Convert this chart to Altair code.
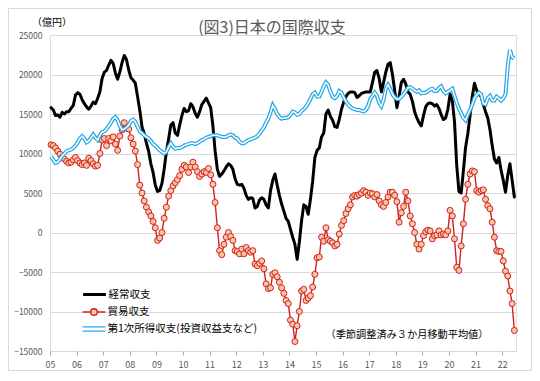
import altair as alt
import pandas as pd

FONT = "Noto Sans CJK JP"

YEARS = list(range(2005, 2023))
Y_TICKS = [-15000, -10000, -5000, 0, 5000, 10000, 15000, 20000, 25000]
SERIES = ["経常収支", "貿易収支", "第1次所得収支(投資収益支など)"]
COLORS = ["#000000", "#D21F1F", "#27A8E6"]
TITLE = "(図3)日本の国際収支"
UNIT = "（億円）"
NOTE = "（季節調整済み３か月移動平均値）"

# monthly values, Jan 2005 - Jun 2022 (億円)
current_account = [
    15800, 15500, 14800, 14900, 14600, 15200, 15000, 15300, 15300, 15700, 16100, 17400,
    17700, 17500, 16800, 16300, 15900, 15600, 16000, 16500, 16300, 17000, 17800, 19500,
    20300, 20500, 21200, 21800, 21400, 20200, 19400, 20300, 21500, 22400, 21900, 20600,
    19600, 19300, 18900, 17200, 15500, 13400, 12500, 11300, 10300, 8700, 7600, 6000,
    5200, 5300, 6200, 8000, 10200, 11800, 13600, 13900, 12600, 12300, 13600, 14800,
    15700, 15300, 15400, 16300, 15900, 15100, 14600, 15300, 16200, 16600, 17000, 16400,
    15800, 13500, 10300, 8000, 7100, 7400, 7800, 8300, 8700, 8500, 8000, 6800,
    6100, 6000, 6100, 5600, 4700, 4200, 4400, 4300, 3100, 3300, 4100, 4400,
    4200, 3500, 3100, 5300, 6600, 7400, 6000, 4700, 3600, 2700, 1800, 1400,
    400, -600, -1500, -3400, -1200, 1500, 3500, 3300, 2300, 4200, 6500, 9500,
    10400, 10700, 12100, 12600, 15000, 15500, 14700, 14200, 13400, 13300, 14300, 15600,
    16500, 17200, 17600, 17800, 17800, 17700, 17100, 17300, 17600, 17700, 17800, 17800,
    17800, 19000, 20300, 20500, 19500, 17800, 19000, 20300, 21300, 21500, 20000, 18000,
    15800, 17200, 19000, 19400, 18800, 17800, 17500, 16600, 15300, 14500, 13900, 13500,
    14800, 15900, 16300, 16400, 16300, 16000, 16200, 15700, 14900, 14300, 14500, 15600,
    17500, 16700, 14000, 8500, 5200, 5000, 7800, 10800, 12500, 14800, 17200, 18900,
    18000, 17500, 17200, 16200, 15300, 14500, 13000, 11000, 9300, 8800, 9500, 7900,
    6600, 5100, 7200, 8700, 6600, 4500,
]

trade_balance = [
    11100, 11000, 10700, 10300, 9900, 9500, 9300, 9000, 8800, 8900, 9200, 9500,
    9100, 8800, 8600, 8800, 8500, 9400, 9100, 8700, 8400, 8500, 10000, 11700,
    11900, 11000, 11900, 11600, 12100, 11200, 10400, 12200, 13000, 13900, 13200, 13100,
    12000, 11200, 10300, 8600, 6000, 5000, 4000, 3200, 2600, 2100, 1400, 600,
    -1000, -700, 0, 1800, 3200, 4600, 5300, 5900, 6300, 6700, 7200, 8000,
    8500, 8300, 7600, 8300, 8900, 8300, 7700, 7100, 7400, 7700, 7600, 8100,
    7300, 6100, 3800, 600, -2300, -2800, -1500, -600, 0, -500, -1000, -2300,
    -2400, -2700, -2100, -2700, -1900, -2300, -2500, -2300, -4000, -4200, -3900, -3600,
    -4600, -6500, -7100, -7000, -5300, -5100, -5600, -6300, -7000, -7700, -8600, -9000,
    -11100, -11600, -13800, -11800, -10000, -7400, -7200, -8600, -8300, -8000, -6900, -5300,
    -3200, -3100, -600, -1100, 600, -900, -1100, -1300, -1700, -1500, -200, 900,
    1500, 2400, 3000, 3500, 4500, 4700, 4600, 4800, 5000, 5300, 5100, 4700,
    5000, 4900, 4500, 4800, 4000, 3500, 3300, 3800, 4500, 5100, 5100, 4700,
    3900, 1300, 2500, 3300, 5100, 4000, 2100, 1100, 0, -1500, -2100, -1500,
    -400, 100, 300, 200, -800, -400, -300, 200, -300, -200, -300, 200,
    2800, 2100, -800, -4400, -4800, -1700, 1100, 4200, 6100, 7400, 7800, 7700,
    5300, 5100, 5300, 5400, 4200, 3400, 3000, 1300, -600, -2300, -2400, -2400,
    -3600, -4900, -5500, -7400, -9000, -12400,
]

primary_income = [
    9600, 9200, 8800, 8900, 9300, 9700, 10000, 10300, 10400, 10500, 10700, 11000,
    11400, 11900, 12200, 11900, 11400, 11600, 12000, 12400, 12000, 11700, 12300, 12700,
    12800, 13100, 13500, 13900, 14400, 14600, 14200, 13500, 13000, 13100, 13300, 13600,
    14100, 14300, 14000, 13400, 12800, 12600, 12300, 12100, 11900, 11600, 11200, 11000,
    10700, 10400, 10200, 10000, 10200, 10800, 11300, 10900, 10600, 10700, 10700, 10800,
    11000, 11100, 11200, 11300, 11300, 11200, 11300, 11500, 11700, 11800, 12000, 12100,
    12200, 12300, 12300, 12300, 12200, 12100, 12100, 12100, 12300, 12400, 12300, 12000,
    11900, 11500, 11300, 11300, 11500, 11700, 11800, 11900, 12000, 12200, 12500, 12900,
    13300, 13900, 14400, 15200, 16100, 15600, 15000, 14600, 14400, 14500, 14500, 14600,
    14900, 15300, 15200, 14900, 15000, 15400, 15600, 15900, 16400, 16900, 17500, 17700,
    17200, 17200, 17800, 18500, 19000, 18700, 17800, 17200, 17000, 17300, 17900, 17700,
    17100, 16600, 16200, 15900, 15700, 15600, 15500, 15500, 15400, 15300, 15500, 16000,
    16900, 17300, 17700, 17300, 16400, 16000, 16800, 18200, 18700, 18200, 17500, 17100,
    16900, 16900, 17200, 17500, 17900, 18300, 18400, 18200, 18000, 17800, 18000, 17600,
    17700, 17700, 17900, 18100, 18200, 17900, 17900, 18300, 18500, 17900, 17600, 17800,
    18000, 18200, 17300, 16400, 15700, 15100, 14500, 14200, 14900, 15500, 16200, 17000,
    17400, 17700, 17500, 16300, 16200, 17000, 17300, 16700, 16700, 17200, 17000, 16700,
    17000, 17500, 21000, 23100, 22200, 22000,
]

n = len(current_account)
assert n == len(trade_balance) == len(primary_income) == 210

# month positions (mid-month) as decimal years
t = [2005 + i // 12 + (i % 12 + 0.5) / 12 for i in range(n)]

df = pd.DataFrame({
    "t": t * 3,
    "v": current_account + trade_balance + primary_income,
    "s": [SERIES[0]] * n + [SERIES[1]] * n + [SERIES[2]] * n,
})

BLACK_PATH = "M-1.9,0H1.9"
RED_PATH = "M-1.9,0H-0.55M0.55,0H1.9M-0.55,0A0.55,0.55,0,1,0,0.55,0A0.55,0.55,0,1,0,-0.55,0"
BLUE_PATH = "M-1.9,-0.36H1.9M-1.9,0.36H1.9"
SYMBOLS = [BLACK_PATH, RED_PATH, BLUE_PATH]
SYMBOL_WIDTHS = [3, 1.4, 1.3]
SYMBOL_FILLS = ["transparent", "#F8C6A4", "transparent"]
LEGEND_Y = [252, 270, 287]

x = alt.X("t:Q", title=None,
          scale=alt.Scale(domain=[2005, 2022.52], nice=False, zero=False),
          axis=alt.Axis(values=YEARS, labelExpr="substring(toString(datum.value), 2, 4)",
                        grid=False, domain=False, ticks=True, tickSize=4, tickColor="#A6A6A6",
                        labelFont=FONT, labelFontSize=9, labelColor="#595959", labelPadding=5,
                        labelFlush=False, labelOverlap=False))
y = alt.Y("v:Q", title=None,
          scale=alt.Scale(domain=[-15000, 25000], nice=False),
          axis=alt.Axis(values=Y_TICKS, format="d", grid=True, gridColor="#D9D9D9", gridWidth=1,
                        domain=False, ticks=False, labelFont=FONT, labelFontSize=8.5,
                        labelColor="#595959", labelPadding=8))


def color_for(i):
    return alt.Color(
        "s:N",
        scale=alt.Scale(domain=[SERIES[i]], range=[COLORS[i]]),
        legend=alt.Legend(
            title=None, orient="none", legendX=37, legendY=LEGEND_Y[i], padding=0,
            symbolSize=144, symbolType=SYMBOLS[i], symbolStrokeWidth=SYMBOL_WIDTHS[i],
            symbolFillColor=SYMBOL_FILLS[i], symbolStrokeColor=COLORS[i],
            labelOffset=6.5, symbolOffset=0,
            labelFont=FONT, labelFontSize=10.5, labelColor="#000000", labelLimit=300,
        ),
    )


base = alt.Chart(df)

black = base.transform_filter(alt.datum.s == SERIES[0]).mark_line(
    strokeWidth=3, strokeJoin="round", strokeCap="round").encode(x=x, y=y, color=color_for(0))
red_line = base.transform_filter(alt.datum.s == SERIES[1]).mark_line(
    strokeWidth=1.4).encode(x=x, y=y, color=color_for(1))
red_pts = base.transform_filter(alt.datum.s == SERIES[1]).mark_point(
    shape="circle", filled=True, size=36, fill="#F8C6A4", stroke="#D21F1F",
    strokeWidth=1, opacity=1).encode(x=x, y=y)
blue_outer = base.transform_filter(alt.datum.s == SERIES[2]).mark_line(
    strokeWidth=4).encode(x=x, y=y, color=color_for(2))
blue_inner = base.transform_filter(alt.datum.s == SERIES[2]).mark_line(
    strokeWidth=1.5, color="#FFFFFF").encode(x=x, y=y)


def text_layer(s, px, py, size, color_, align="center"):
    return alt.Chart(pd.DataFrame({"label": [s]})).mark_text(
        font=FONT, fontSize=size, color=color_, align=align, baseline="middle"
    ).encode(x=alt.value(px), y=alt.value(py), text="label:N")


frame = alt.Chart(pd.DataFrame({"k": [0]})).mark_rect(
    fill="transparent", stroke="#D9D9D9", strokeWidth=1
).encode(x=alt.value(-41.5), x2=alt.value(481.5), y=alt.value(-26.5), y2=alt.value(335.5))

title = text_layer(TITLE, 222, -7.5, 16, "#595959")
unit = text_layer(UNIT, 2, -12, 10, "#000000")
note = text_layer(NOTE, 357, 299.5, 10.2, "#000000")

chart = alt.layer(
    frame, black, red_line, red_pts, blue_outer, blue_inner, title, unit, note
).resolve_scale(
    color="independent"
).properties(
    width=466, height=316,
    padding={"left": 42, "top": 27, "right": 16, "bottom": 20},
    autosize=alt.AutoSizeParams(type="none"),
).configure_view(
    stroke="#A0A0A0", strokeWidth=1
).configure(background="#FFFFFF")

chart.save("out.html", embed_options={"renderer": "svg", "actions": False})
